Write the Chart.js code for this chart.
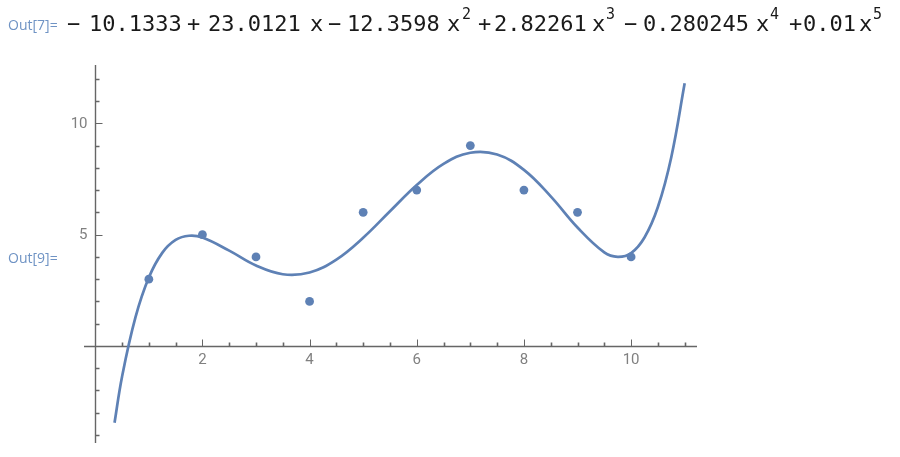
<!DOCTYPE html>
<html>
<head>
<meta charset="utf-8">
<script src="https://cdn.jsdelivr.net/npm/chart.js@4/dist/chart.umd.min.js"></script>
<style>
  html, body { margin: 0; padding: 0; background: #fff; }
  #wrap { position: relative; width: 900px; height: 457px; overflow: hidden; }
  #c { position: absolute; left: 0; top: 0; }
  .lbl { position: absolute; font-family: "Open Sans", sans-serif; font-size: 14px; color: #6f93c4; white-space: nowrap; }
  .f { position: absolute; font-family: "DejaVu Sans Mono", monospace; font-size: 22px; color: #1a1a1a; top: 11px; white-space: nowrap; }
  .s { position: absolute; font-family: "DejaVu Sans Mono", monospace; font-size: 15px; color: #1a1a1a; top: 5px; white-space: nowrap; }
</style>
</head>
<body>
<div id="wrap">
  <canvas id="c" width="900" height="457"></canvas>
  <div class="lbl" style="left:8px; top:15px;">Out[7]=</div>
  <div class="lbl" style="left:8px; top:248px;">Out[9]=</div>
  <span class="f" style="left:67px">−</span>
  <span class="f" style="left:89px">10.1333</span>
  <span class="f" style="left:187px">+</span>
  <span class="f" style="left:208px">23.0121</span>
  <span class="f" style="left:310px">x</span>
  <span class="f" style="left:328px">−</span>
  <span class="f" style="left:347px">12.3598</span>
  <span class="f" style="left:447px">x</span>
  <span class="s" style="left:462px">2</span>
  <span class="f" style="left:478px">+</span>
  <span class="f" style="left:494px">2.82261</span>
  <span class="f" style="left:592px">x</span>
  <span class="s" style="left:606px">3</span>
  <span class="f" style="left:624px">−</span>
  <span class="f" style="left:643px">0.280245</span>
  <span class="f" style="left:756px">x</span>
  <span class="s" style="left:770px">4</span>
  <span class="f" style="left:789px">+</span>
  <span class="f" style="left:803px">0.01</span>
  <span class="f" style="left:859px">x</span>
  <span class="s" style="left:873px">5</span>
</div>
<script>
// Data points
const pointX = [1, 2, 3, 4, 5, 6, 7, 8, 9, 10];
const pointY = [3, 5, 4, 2, 6, 7, 9, 7, 6, 4];

const curveX = [0.36, 0.5, 0.75, 1, 1.25, 1.5, 1.75, 2, 2.5, 3, 3.5, 4, 4.5, 5, 5.5, 6, 6.5, 7, 7.5, 8, 8.5, 9, 9.5, 9.75, 10, 10.25, 10.5, 10.75, 11];
const curveY = [-3.45, -1.38, 1.28, 3.07, 4.18, 4.76, 4.95, 4.87, 4.28, 3.61, 3.22, 3.30, 3.88, 4.86, 6.05, 7.23, 8.18, 8.68, 8.60, 7.91, 6.72, 5.32, 4.20, 4.00, 4.17, 4.87, 6.24, 8.48, 11.80];

// Axis ticks
const xTickLabels = [2, 4, 6, 8, 10];
const yTickLabels = [5, 10];
const xMinorTicks = [0.5, 1, 1.5, 2.5, 3, 3.5, 4.5, 5, 5.5, 6.5, 7, 7.5, 8.5, 9, 9.5, 10.5, 11];
const yMinorTicks = [-4, -3, -2, -1, 1, 2, 3, 4, 6, 7, 8, 9, 11, 12];

const axisRange = { xMin: -0.21, xMax: 11.23, yMin: -4.36, yMax: 12.62 };

const blue = '#5e81b5';
const axisColor = '#666666';

const axesPlugin = {
  id: 'mmaAxes',
  beforeDatasetsDraw(chart) {
    const ctx = chart.ctx;
    const xs = chart.scales.x, ys = chart.scales.y;
    const ca = chart.chartArea;
    const x0 = Math.round(xs.getPixelForValue(0)) + 0.5;
    const y0 = Math.round(ys.getPixelForValue(0)) + 0.5;
    ctx.save();
    ctx.strokeStyle = axisColor;
    ctx.lineWidth = 1.4;
    ctx.beginPath();
    ctx.moveTo(ca.left, y0); ctx.lineTo(ca.right, y0);
    ctx.moveTo(x0, ca.top); ctx.lineTo(x0, ca.bottom);
    ctx.stroke();
    ctx.lineWidth = 1.6;
    ctx.beginPath();
    xMinorTicks.forEach(v => {
      const px = Math.round(xs.getPixelForValue(v)) + 0.5;
      ctx.moveTo(px, y0); ctx.lineTo(px, y0 - 4);
    });
    yMinorTicks.forEach(v => {
      const py = Math.round(ys.getPixelForValue(v)) + 0.5;
      ctx.moveTo(x0, py); ctx.lineTo(x0 + 4, py);
    });
    ctx.stroke();
    ctx.lineWidth = 1;
    ctx.beginPath();
    xTickLabels.forEach(v => {
      const px = Math.round(xs.getPixelForValue(v)) + 0.5;
      ctx.moveTo(px, y0); ctx.lineTo(px, y0 - 7);
    });
    yTickLabels.forEach(v => {
      const py = Math.round(ys.getPixelForValue(v)) + 0.5;
      ctx.moveTo(x0, py); ctx.lineTo(x0 + 7, py);
    });
    ctx.stroke();
    ctx.fillStyle = '#808080';
    ctx.font = '15px Roboto, sans-serif';
    ctx.textAlign = 'center';
    ctx.textBaseline = 'top';
    xTickLabels.forEach(v => {
      ctx.fillText(String(v), xs.getPixelForValue(v), y0 + 6);
    });
    ctx.textAlign = 'right';
    ctx.textBaseline = 'middle';
    yTickLabels.forEach(v => {
      ctx.fillText(String(v), x0 - 8, ys.getPixelForValue(v) + 1);
    });
    ctx.restore();
  }
};

new Chart(document.getElementById('c'), {
  type: 'scatter',
  data: {
    datasets: [
      {
        label: 'fit',
        data: curveX.map((x, i) => ({ x: x, y: curveY[i] })),
        showLine: true,
        borderColor: blue,
        borderWidth: 2.7,
        pointRadius: 0,
        tension: 0.4,
        fill: false,
        order: 2
      },
      {
        label: 'data',
        data: pointX.map((x, i) => ({ x: x, y: pointY[i] })),
        showLine: false,
        backgroundColor: blue,
        borderColor: blue,
        borderWidth: 0,
        pointRadius: 4.4,
        order: 1
      }
    ]
  },
  options: {
    responsive: false,
    animation: false,
    devicePixelRatio: 1,
    layout: { padding: { left: 84, right: 900 - 697, top: 65, bottom: 457 - 443 } },
    plugins: { legend: { display: false }, tooltip: { enabled: false } },
    scales: {
      x: { type: 'linear', display: false, min: axisRange.xMin, max: axisRange.xMax },
      y: { type: 'linear', display: false, min: axisRange.yMin, max: axisRange.yMax }
    }
  },
  plugins: [axesPlugin]
});
</script>
</body>
</html>
